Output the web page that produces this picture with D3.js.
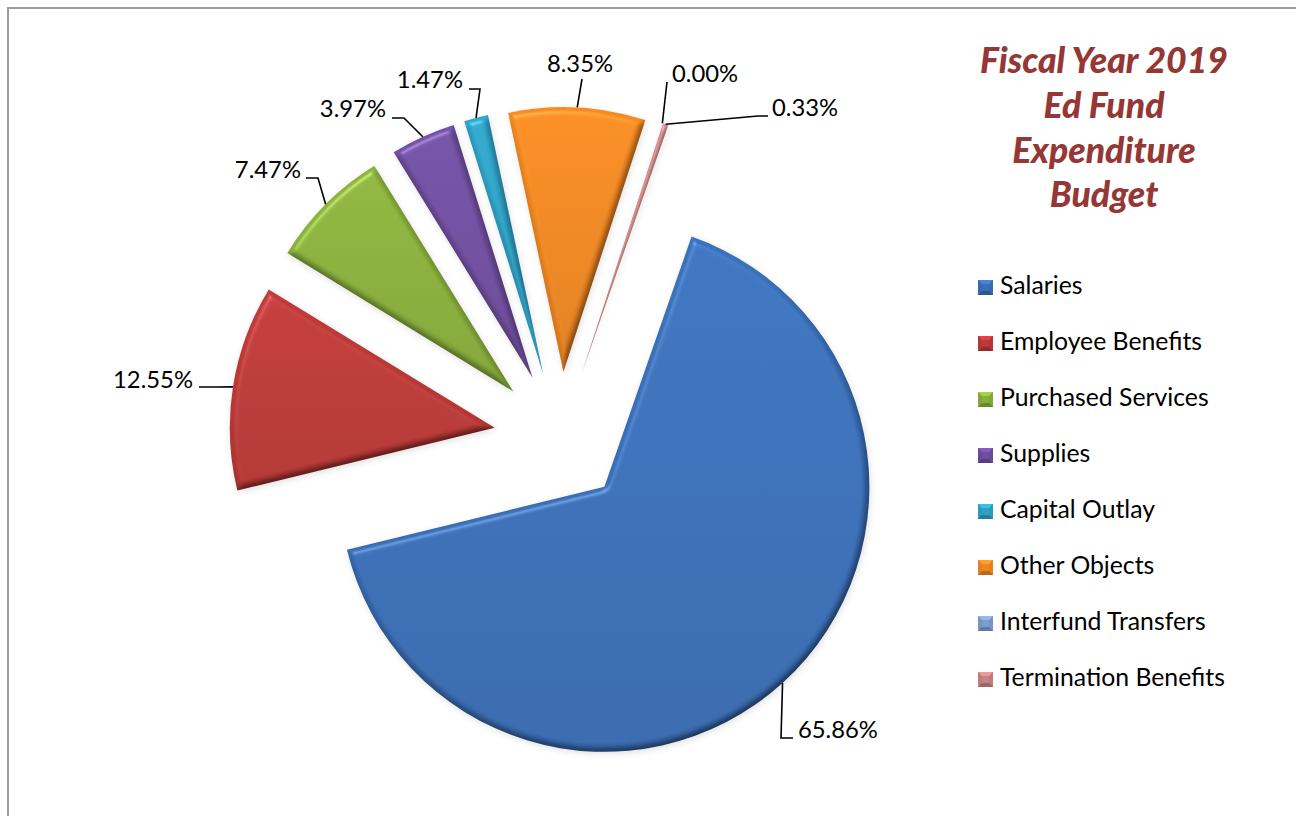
<!DOCTYPE html>
<html>
<head>
<meta charset="utf-8">
<script src="https://cdn.jsdelivr.net/npm/d3@7"></script>
<style>
  html, body { margin: 0; padding: 0; background: #fff; }
  svg { display: block; }
  text { font-family: Lato, "Open Sans", "DejaVu Sans", sans-serif; }
</style>
</head>
<body>
<svg id="chart" width="1296" height="816"></svg>
<script>
// ---- data ----
const categories = [
  "Salaries", "Employee Benefits", "Purchased Services", "Supplies",
  "Capital Outlay", "Other Objects", "Interfund Transfers", "Termination Benefits"
];
const shares = [65.86, 12.55, 7.47, 3.97, 1.47, 8.35, 0.00, 0.33];
const titleLines = ["Fiscal Year 2019", "Ed Fund", "Expenditure", "Budget"];

// ---- style ----
const sliceColors = ["#3A6FB8", "#BC3937", "#89AF3B", "#6F4E9F",
                     "#2FA1C5", "#EF8721", "#7E9BCB", "#C58382"];
const titleColor = "#953735";

// ---- layout ----
const W = 1296, H = 816;
const cx = 560, cy = 438, radius = 265, explode = 66;
const firstSliceAngle = 19.2 * Math.PI / 180;

// data-label placement: text anchor point + leader elbows (from label towards slice)
const labelLayout = [
  { x: 798, y: 738, anchor: "start", via: [[793, 738], [781, 738]] },
  { x: 193, y: 388, anchor: "end",   via: [[199, 387], [216, 387]] },
  { x: 301, y: 178, anchor: "end",   via: [[306, 178], [318, 178]] },
  { x: 386, y: 117, anchor: "end",   via: [[392, 118], [404, 118]] },
  { x: 463, y: 88,  anchor: "end",   via: [[469, 89], [480, 89]] },
  { x: 580, y: 72,  anchor: "middle",via: [[582, 79]] },
  { x: 672, y: 82,  anchor: "start", via: [[667, 82]] },
  { x: 772, y: 116, anchor: "start", via: [[768, 116], [758, 116]] }
];

const svg = d3.select("#chart");
const defs = svg.append("defs");

// frame
svg.append("rect")
  .attr("x", 8).attr("y", 8).attr("width", W + 20).attr("height", H + 20)
  .attr("fill", "#fff").attr("stroke", "#9c9c9c").attr("stroke-width", 2);

// soft-round bevel + faint shadow for each wedge
const f = defs.append("filter").attr("id", "bevel")
  .attr("filterUnits", "userSpaceOnUse")
  .attr("x", -W).attr("y", -H).attr("width", 2 * W).attr("height", 2 * H)
  .attr("color-interpolation-filters", "sRGB");
f.append("feGaussianBlur").attr("in", "SourceAlpha").attr("stdDeviation", 3).attr("result", "blur");
f.append("feDiffuseLighting").attr("in", "blur").attr("surfaceScale", 4)
  .attr("diffuseConstant", 1.25).attr("lighting-color", "#fff").attr("result", "diff")
  .append("feDistantLight").attr("azimuth", 240).attr("elevation", 53);
// half-strength shading: 0.55*src*light + 0.45*src
f.append("feComposite").attr("in", "SourceGraphic").attr("in2", "diff")
  .attr("operator", "arithmetic").attr("k1", 0.55).attr("k2", 0.45).attr("result", "shaded");
f.append("feSpecularLighting").attr("in", "blur").attr("surfaceScale", 4)
  .attr("specularConstant", 0.7).attr("specularExponent", 40)
  .attr("lighting-color", "#fff").attr("result", "spec")
  .append("feDistantLight").attr("azimuth", 240).attr("elevation", 53);
f.append("feComposite").attr("in", "spec").attr("in2", "SourceAlpha")
  .attr("operator", "in").attr("result", "specIn");
f.append("feComposite").attr("in", "shaded").attr("in2", "specIn")
  .attr("operator", "arithmetic").attr("k2", 1).attr("k3", 0.3).attr("result", "lit");
f.append("feGaussianBlur").attr("in", "SourceAlpha").attr("stdDeviation", 3).attr("result", "sb");
f.append("feOffset").attr("in", "sb").attr("dx", 1).attr("dy", 2).attr("result", "so");
f.append("feFlood").attr("flood-color", "#000").attr("flood-opacity", 0.12);
f.append("feComposite").attr("in2", "so").attr("operator", "in").attr("result", "shadow");
const fm = f.append("feMerge");
fm.append("feMergeNode").attr("in", "shadow");
fm.append("feMergeNode").attr("in", "lit");

// vertical gradient per category
sliceColors.forEach((c, i) => {
  const g = defs.append("linearGradient").attr("id", "grad" + i)
    .attr("x1", 0).attr("y1", 0).attr("x2", 0).attr("y2", 1);
  g.append("stop").attr("offset", "0%").attr("stop-color", d3.color(c).brighter(0.08).formatHex());
  g.append("stop").attr("offset", "100%").attr("stop-color", d3.color(c).darker(0.22).formatHex());
});

// ---- pie ----
const pie = d3.pie().sort(null).value(d => d)
  .startAngle(firstSliceAngle).endAngle(firstSliceAngle + 2 * Math.PI);
const arcs = pie(shares);
const arc = d3.arc().innerRadius(0).outerRadius(radius);

const mid = a => (a.startAngle + a.endAngle) / 2;
const offset = a => [explode * Math.sin(mid(a)), -explode * Math.cos(mid(a))];

const pieG = svg.append("g").attr("transform", `translate(${cx},${cy})`);
pieG.selectAll("path.slice")
  .data(arcs)
  .join("path")
  .attr("class", "slice")
  .attr("d", arc)
  .attr("transform", a => `translate(${offset(a)})`)
  .attr("fill", (a, i) => `url(#grad${i})`)
  .attr("filter", "url(#bevel)");

// ---- text sizing helper: font size that gives a string the wanted width ----
function sizeFor(str, width, weight, style) {
  const t = svg.append("text").attr("font-size", 100)
    .attr("font-weight", weight || "normal").attr("font-style", style || "normal").text(str);
  const w = t.node().getComputedTextLength();
  t.remove();
  return 100 * width / w;
}

// ---- data labels with leader lines ----
const fmt = v => v.toFixed(2) + "%";
const labelSize = sizeFor("65.86%", 80);
const labelG = svg.append("g");
arcs.forEach((a, i) => {
  const L = labelLayout[i];
  const o = offset(a);
  const m = mid(a);
  const edge = [cx + o[0] + radius * Math.sin(m), cy + o[1] - radius * Math.cos(m)];
  const pts = L.via.concat([edge]);
  labelG.append("path")
    .attr("d", d3.line()(pts))
    .attr("fill", "none").attr("stroke", "#000").attr("stroke-width", 1.6);
  labelG.append("text")
    .attr("x", L.x).attr("y", L.y)
    .attr("text-anchor", L.anchor)
    .attr("font-size", labelSize)
    .attr("fill", "#000")
    .text(fmt(shares[i]));
});

// ---- title ----
const titleSize = sizeFor(titleLines[0], 248, "900", "italic");
svg.append("g").selectAll("text")
  .data(titleLines)
  .join("text")
  .attr("x", 1104)
  .attr("y", (d, i) => 73 + i * 44.8)
  .attr("text-anchor", "middle")
  .attr("font-size", titleSize)
  .attr("font-weight", "900")
  .attr("font-style", "italic")
  .attr("fill", titleColor)
  .text(d => d);

// ---- legend ----
const legendSize = sizeFor("Termination Benefits", 225);
const legend = svg.append("g").attr("transform", "translate(978,280)");
const item = legend.selectAll("g").data(categories).join("g")
  .attr("transform", (d, i) => `translate(0,${i * 56})`);
const m = 15, k = 4;   // marker size, bevel inset
item.append("rect").attr("width", m).attr("height", m)
  .attr("fill", (d, i) => d3.color(sliceColors[i]).darker(0.15));
item.append("path") // lit top facet
  .attr("d", `M0,0H${m}L${m - k},${k}H${k}Z`)
  .attr("fill", (d, i) => d3.color(sliceColors[i]).brighter(0.5));
item.append("path") // shaded bottom facet
  .attr("d", `M0,${m}H${m}L${m - k},${m - k}H${k}Z`)
  .attr("fill", (d, i) => d3.color(sliceColors[i]).darker(0.7));
item.append("rect").attr("x", k).attr("y", k).attr("width", m - 2 * k).attr("height", m - 2 * k)
  .attr("fill", (d, i) => sliceColors[i]);
item.append("text")
  .attr("x", 22).attr("y", m / 2 + 6.5)
  .attr("font-size", legendSize)
  .attr("fill", "#000")
  .text(d => d);
</script>
</body>
</html>
